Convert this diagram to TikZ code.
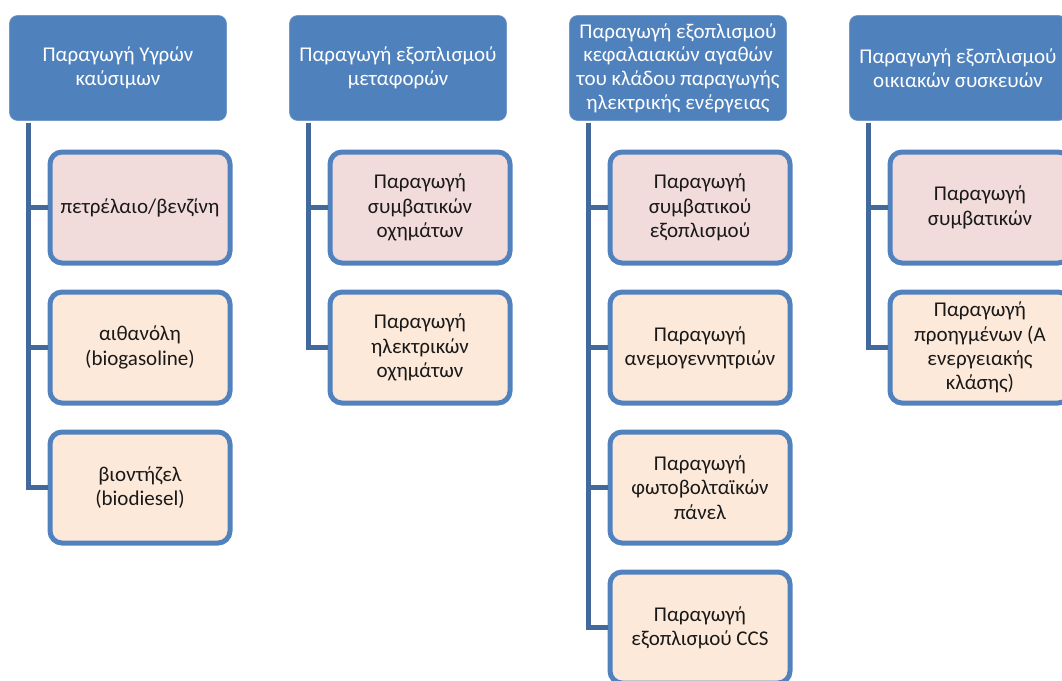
\documentclass[tikz,border=0pt]{standalone}
\usepackage{fontspec}
\setmainfont{Carlito}
\definecolor{hdrblue}{HTML}{4F81BD}
\definecolor{boxedge}{HTML}{5282BE}
\definecolor{trunk}{HTML}{41699C}
\definecolor{pinkfill}{HTML}{F2DCDB}
\definecolor{peachfill}{HTML}{FDE9D9}
\tikzset{
  header/.style={fill=hdrblue, draw=hdrblue!80!white, line width=0.6pt, rounded corners=8pt,
    minimum width=217pt, minimum height=105pt, inner sep=1pt, align=center,
    text=white, font=\fontsize{21}{23.8}\selectfont},
  item/.style={draw=boxedge, line width=5pt, rounded corners=12pt,
    minimum width=180pt, minimum height=111pt, inner sep=1pt, align=center,
    text=black!90, font=\fontsize{21}{24.3}\selectfont},
  first/.style={item, fill=pinkfill},
  other/.style={item, fill=peachfill},
  conn/.style={draw=trunk, line width=5.5pt}
}
\begin{document}
\begin{tikzpicture}[x=1pt, y=-1pt]
\useasboundingbox (0,0) rectangle (1062,680);
\clip (0,0) rectangle (1062,680);

% column 1: liquid fuels
\node[header] (h1) at (118,68) {Παραγωγή Υγρών\\καύσιμων};
\node[first] (c11) at (140,207.5) {πετρέλαιο/βενζίνη};
\node[other] (c12) at (140,347.5) {αιθανόλη\\(biogasoline)};
\node[other] (c13) at (140,487.5) {βιοντήζελ\\(biodiesel)};

% column 2: transport equipment
\node[header] (h2) at (398,68) {Παραγωγή εξοπλισμού\\μεταφορών};
\node[first] (c21) at (420,207.5) {Παραγωγή\\συμβατικών\\οχημάτων};
\node[other] (c22) at (420,347.5) {Παραγωγή\\ηλεκτρικών\\οχημάτων};

% column 3: power-sector capital goods
\node[header] (h3) at (678,68) {Παραγωγή εξοπλισμού\\κεφαλαιακών αγαθών\\του κλάδου παραγωγής\\ηλεκτρικής ενέργειας};
\node[first] (c31) at (700,207.5) {Παραγωγή\\συμβατικού\\εξοπλισμού};
\node[other] (c32) at (700,347.5) {Παραγωγή\\ανεμογεννητριών};
\node[other] (c33) at (700,487.5) {Παραγωγή\\φωτοβολταϊκών\\πάνελ};
\node[other] (c34) at (700,627.5) {Παραγωγή\\εξοπλισμού CCS};

% column 4: household appliances
\node[header] (h4) at (958,68) {Παραγωγή εξοπλισμού\\οικιακών συσκευών};
\node[first] (c41) at (980,207.5) {Παραγωγή\\συμβατικών};
\node[other] (c42) at (980,347.5) {Παραγωγή\\προηγμένων (Α\\ενεργειακής\\κλάσης)};

% trunk lines from each header to its items
\begin{scope}[on background layer/.try]
\foreach \h/\list in {h1/{c11,c12,c13}, h2/{c21,c22}, h3/{c31,c32,c33,c34}, h4/{c41,c42}} {
  \foreach \c in \list {
    \draw[conn] ([xshift=19.5pt, yshift=-2pt]\h.south west) |- (\c.west);
  }
}
\end{scope}
\end{tikzpicture}
\end{document}
